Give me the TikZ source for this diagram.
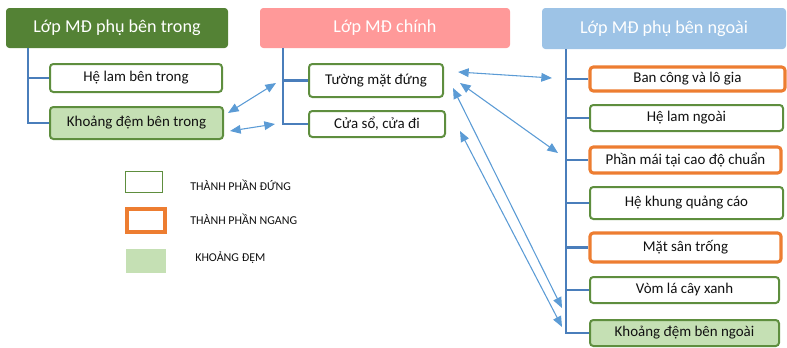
\documentclass[tikz,border=0pt]{standalone}
\usepackage{fontspec}
\setmainfont{Carlito}
\usetikzlibrary{arrows.meta}
\definecolor{hgreen}{HTML}{548235}
\definecolor{hpink}{HTML}{FF9999}
\definecolor{hblue}{HTML}{9DC3E6}
\definecolor{bgreen}{HTML}{5E8E3E}
\definecolor{borange}{HTML}{ED7D31}
\definecolor{fgreen}{HTML}{C5E0B4}
\definecolor{tree}{HTML}{4A7EBB}
\definecolor{link}{HTML}{5B9BD5}
\definecolor{ink}{HTML}{111111}
\tikzset{
  header/.style={rounded corners=2.5, text=white, font=\fontsize{13.6}{15}\selectfont, inner sep=0pt},
  vbox/.style={draw=bgreen, line width=1.5pt, rounded corners=2.5, fill=white, text=ink,
    font=\fontsize{11.2}{13}\selectfont, inner sep=0pt},
  hbox/.style={vbox, draw=borange, line width=2.3pt},
  gapbox/.style={vbox, fill=fgreen},
  branch/.style={draw=tree, line width=1.6pt},
  link/.style={draw=link, line width=0.8pt, {Triangle[length=8pt,width=6.5pt]}-{Triangle[length=8pt,width=6.5pt]}},
  legtext/.style={text=ink, font=\fontsize{9}{10}\selectfont, anchor=west, inner sep=0pt}
}
\begin{document}
\begin{tikzpicture}[x=0.75pt,y=-0.75pt]
\useasboundingbox (0,0) rectangle (787,347);

% column headers
\node[header, fill=hgreen, minimum width=222*0.75pt, minimum height=40*0.75pt] (lh) at (117,28) {Lớp MĐ phụ bên trong};
\node[header, fill=hpink, minimum width=250*0.75pt, minimum height=40*0.75pt] (mh) at (385,28) {Lớp MĐ chính};
\node[header, fill=hblue, minimum width=244*0.75pt, minimum height=41*0.75pt] (rh) at (664,28.5) {Lớp MĐ phụ bên ngoài};

% inner layer
\node[vbox, minimum width=172*0.75pt, minimum height=28*0.75pt] (hlt) at (136,78) {Hệ lam bên trong};
\node[gapbox, minimum width=173*0.75pt, minimum height=32*0.75pt] (kdt) at (136.5,123) {Khoảng đệm bên trong};

% main layer
\node[vbox, minimum width=134*0.75pt, minimum height=33*0.75pt] (tmd) at (376,80.5) {Tường mặt đứng};
\node[vbox, minimum width=136*0.75pt, minimum height=26*0.75pt] (csd) at (377,124) {Cửa sổ, cửa đi};

% outer layer
\node[hbox, minimum width=195*0.75pt, minimum height=24*0.75pt] (bcl) at (687.5,79) {Ban công và lô gia};
\node[vbox, minimum width=193*0.75pt, minimum height=26*0.75pt] (hln) at (686.5,118) {Hệ lam ngoài};
\node[hbox, minimum width=191*0.75pt, minimum height=26*0.75pt] (pmc) at (685.5,160) {Phần mái tại cao độ chuẩn};
\node[vbox, minimum width=193*0.75pt, minimum height=32*0.75pt] (hkq) at (686.5,203) {Hệ khung quảng cáo};
\node[hbox, minimum width=191*0.75pt, minimum height=29*0.75pt] (mst) at (685.5,247.5) {Mặt sân trống};
\node[vbox, minimum width=189*0.75pt, minimum height=26*0.75pt] (vlc) at (684.5,290) {Vòm lá cây xanh};
\node[gapbox, minimum width=189*0.75pt, minimum height=26*0.75pt] (kdn) at (684.5,333) {Khoảng đệm bên ngoài};

% tree branches
\coordinate (lb) at ([xshift=22*0.75pt]lh.south west);
\coordinate (mb) at ([xshift=23*0.75pt]mh.south west);
\coordinate (rb) at ([xshift=24*0.75pt]rh.south west);
\draw[branch] (lb) |- (hlt.west);
\draw[branch] (lb) |- (kdt.west);
\draw[branch] (mb) |- (tmd.west);
\draw[branch] (mb) |- (csd.west);
\foreach \n in {bcl,hln,pmc,hkq,mst,vlc,kdn}
  \draw[branch] (rb) |- (\n.west);

% relations between layers
\coordinate (a1) at (228,113);  \coordinate (b1) at (276,83);
\coordinate (a2) at (230,131);  \coordinate (b2) at (275,124);
\coordinate (a3) at (458,72);   \coordinate (b3) at (552,78);
\coordinate (a4) at (460,83);   \coordinate (b4) at (558,153);
\coordinate (a5) at (453,88);   \coordinate (b5) at (562,308);
\coordinate (a6) at (460,131);  \coordinate (b6) at (562,327);
\foreach \i in {1,...,6}
  \draw[link] (a\i) -- (b\i);

% legend
\node[draw=bgreen, line width=1.3pt, minimum width=37*0.75pt, minimum height=21*0.75pt, inner sep=0pt] (lg1) at (144,182) {};
\node[draw=borange, line width=2.3pt, minimum width=38*0.75pt, minimum height=23*0.75pt, inner sep=0pt] (lg2) at (146,220.5) {};
\node[fill=fgreen, minimum width=40*0.75pt, minimum height=24*0.75pt, inner sep=0pt] (lg3) at (146,261) {};
\node[legtext] (lt1) at (190,185) {THÀNH PHẦN ĐỨNG};
\node[legtext] (lt2) at (190,219) {THÀNH PHẦN NGANG};
\node[legtext] (lt3) at (195,258) {KHOẢNG ĐỆM};
\end{tikzpicture}
\end{document}
